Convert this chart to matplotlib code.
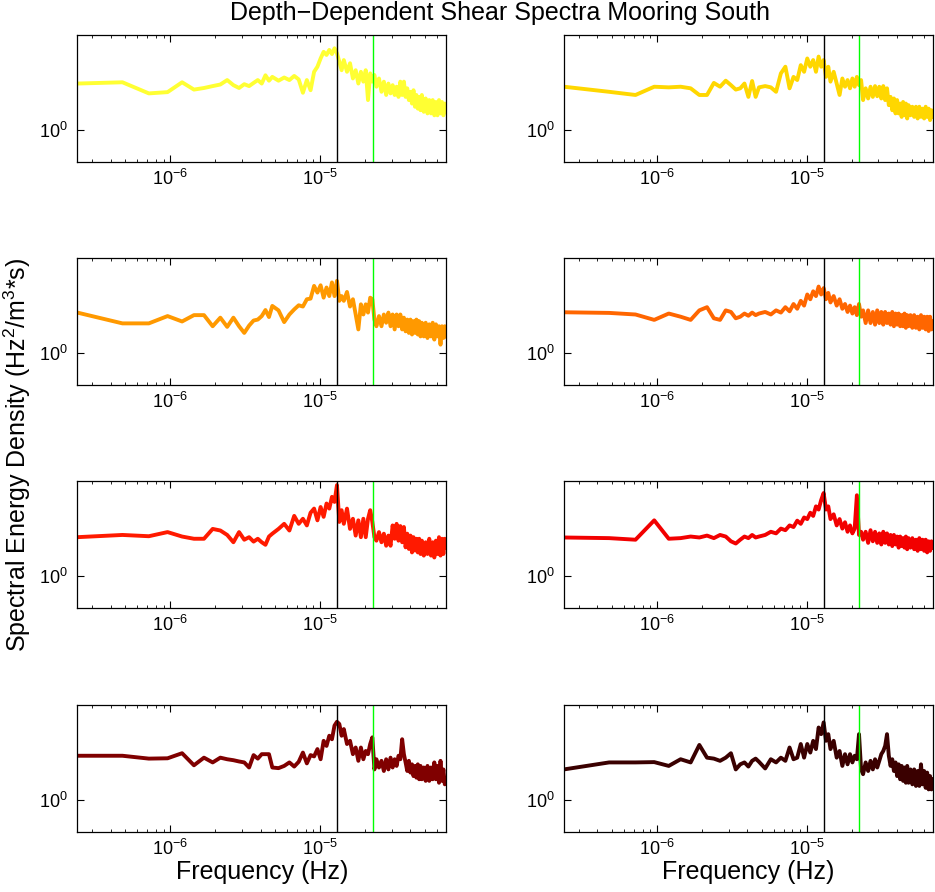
import numpy as np
import matplotlib.pyplot as plt
from matplotlib.ticker import LogLocator, NullLocator

plt.rcParams['font.family'] = ['Liberation Sans', 'DejaVu Sans']
plt.rcParams['mathtext.fontset'] = 'custom'
plt.rcParams['mathtext.rm'] = 'Liberation Sans'
plt.rcParams['mathtext.it'] = 'Liberation Sans:italic'
plt.rcParams['mathtext.bf'] = 'Liberation Sans:bold'

# frequency grid: 2-hourly record, 580 samples -> df, Nyquist at k=290
df = 1.0 / (580 * 2 * 3600.0)
k = [1, 2, 3, 4, 5, 6, 7, 8, 9, 10, 11, 12, 13, 14, 15, 16, 17, 18, 19, 20,
     22, 24, 26, 28, 30, 32, 34, 36, 38, 40, 42, 44, 46, 48, 50, 52, 54, 56, 58, 60,
     63, 66, 69, 72, 75, 78, 81, 84, 87, 90, 93, 96, 99,
     103, 107, 111, 115, 119, 123, 127, 131, 135, 139, 143, 147, 151, 155, 159, 163,
     167, 171, 175, 179, 183, 187, 191, 195, 199,
     205, 211, 217, 223, 229, 235, 241, 247, 253, 259, 265, 271, 277, 283, 290]

f_inertial = 1.30e-5
f_m2 = 2.2366e-5

# log10 of spectral energy density, one list per depth
log_s1 = [1.47, 1.51, 1.16, 1.20, 1.51, 1.28, 1.33, 1.39, 1.44, 1.58, 1.42, 1.33, 1.45, 1.39, 1.49, 1.58, 1.47, 1.73, 1.56, 1.68,
          1.56, 1.66, 1.58, 1.71, 1.60, 1.18, 1.58, 1.26, 1.84, 2.00, 2.26, 2.47, 2.37, 2.53, 2.40, 2.58, 2.42, 2.16, 1.89, 2.21,
          1.84, 2.11, 1.63, 1.89, 1.47, 1.84, 1.53, 1.89, 0.95, 1.79, 1.53, 1.74, 1.37,
          1.63, 1.21, 1.53, 1.11, 1.47, 1.16, 1.42, 1.11, 1.37, 1.05, 1.53, 1.11, 1.53, 1.05, 1.32, 0.95, 1.21, 0.84, 1.26, 0.74, 1.11, 0.68, 1.05, 0.63, 1.11,
          0.58, 1.00, 0.53, 0.95, 0.53, 0.95, 0.47, 0.89, 0.47, 0.95, 0.53, 0.89, 0.47, 0.84, 0.58]
log_s2 = [1.37, 1.21, 1.11, 1.37, 1.35, 1.37, 1.32, 1.11, 1.11, 1.49, 1.37, 1.56, 1.42, 1.28, 1.32, 1.47, 1.05, 1.55, 1.05, 1.35,
          1.39, 1.35, 1.21, 1.79, 2.00, 1.32, 1.68, 1.58, 2.05, 1.84, 2.26, 2.00, 2.21, 1.84, 2.32, 2.00, 2.21, 1.68, 2.00, 1.53,
          1.84, 1.47, 1.11, 1.63, 1.37, 1.58, 1.32, 1.63, 1.37, 1.68, 1.42, 1.58, 0.95,
          1.32, 1.00, 1.37, 1.05, 1.39, 1.07, 1.37, 1.00, 1.39, 0.95, 1.32, 0.79, 1.05, 0.63, 1.00, 0.53, 0.95, 0.53, 0.84, 0.42, 0.89, 0.47, 0.84, 0.37, 0.79,
          0.47, 0.74, 0.42, 0.74, 0.37, 0.74, 0.42, 0.68, 0.37, 0.74, 0.42, 0.68, 0.32, 0.63, 0.42]
log_s3 = [1.28, 0.94, 0.94, 1.17, 1.00, 1.20, 1.20, 0.85, 1.12, 0.83, 1.12, 0.85, 0.64, 0.87, 1.03, 1.06, 1.17, 1.36, 1.14, 1.49,
          1.35, 0.98, 1.22, 1.38, 1.51, 1.47, 1.70, 1.72, 2.12, 1.91, 2.14, 1.75, 2.07, 1.80, 2.23, 1.80, 2.28, 1.65, 1.80, 1.65,
          1.93, 1.47, 1.70, 1.22, 0.75, 1.54, 1.22, 1.54, 1.28, 1.75, 1.70, 1.06, 0.85,
          1.17, 0.85, 1.22, 0.96, 1.28, 0.85, 1.22, 0.75, 1.22, 0.85, 1.22, 0.75, 1.12, 0.69, 1.06, 0.64, 1.06, 0.59, 1.01, 0.64, 1.06, 0.59, 1.01, 0.53, 0.96,
          0.53, 0.96, 0.48, 0.91, 0.53, 0.96, 0.43, 0.91, 0.53, 0.85, 0.27, 0.85, 0.48, 0.85, 0.53]
log_s4 = [1.29, 1.27, 1.22, 1.05, 1.25, 1.15, 1.05, 1.35, 1.45, 1.10, 1.05, 1.35, 1.30, 1.10, 1.15, 1.25, 1.18, 1.28, 1.20, 1.25,
          1.30, 1.22, 1.35, 1.28, 1.45, 1.32, 1.55, 1.40, 1.65, 1.50, 1.85, 1.70, 1.95, 1.80, 2.10, 1.85, 2.05, 1.70, 1.90, 1.60,
          1.80, 1.50, 1.70, 1.40, 1.55, 1.30, 1.50, 1.25, 1.45, 1.20, 1.55, 1.15, 1.35,
          0.95, 1.35, 0.95, 1.30, 0.90, 1.35, 0.95, 1.30, 0.90, 1.30, 0.95, 1.25, 0.90, 1.30, 0.85, 1.25, 0.90, 1.25, 0.85, 1.20, 0.85, 1.25, 0.80, 1.20, 0.85,
          1.20, 0.80, 1.20, 0.80, 1.15, 0.75, 1.20, 0.80, 1.15, 0.75, 1.15, 0.70, 1.15, 0.75, 1.00]
log_s5 = [1.23, 1.30, 1.26, 1.39, 1.25, 1.18, 1.18, 1.49, 1.44, 1.30, 1.07, 1.39, 1.15, 1.23, 1.09, 1.18, 1.07, 0.99, 1.25, 1.34,
          1.49, 1.65, 1.44, 1.90, 1.65, 1.81, 1.60, 2.00, 2.13, 1.76, 2.18, 1.87, 2.29, 2.13, 2.50, 2.34, 2.87, 1.71, 2.08, 1.65,
          2.13, 1.49, 1.81, 1.28, 1.76, 1.23, 1.81, 1.23, 1.81, 2.08, 1.71, 1.23, 1.12,
          1.39, 1.07, 1.34, 0.96, 1.28, 0.96, 1.60, 1.18, 1.65, 1.12, 1.58, 1.07, 1.55, 0.91, 1.34, 0.86, 1.28, 0.75, 1.23, 0.81, 1.18, 0.75, 1.18, 0.70, 1.12,
          0.65, 1.07, 0.70, 1.18, 0.65, 1.07, 0.59, 1.12, 0.70, 1.23, 0.65, 1.18, 0.70, 1.18, 0.91]
log_s6 = [1.22, 1.20, 1.15, 1.76, 1.18, 1.20, 1.25, 1.22, 1.28, 1.20, 1.30, 1.25, 1.10, 1.03, 1.15, 1.25, 1.20, 1.30, 1.22, 1.25,
          1.30, 1.40, 1.35, 1.50, 1.45, 1.60, 1.55, 1.75, 1.65, 1.85, 1.80, 2.00, 1.90, 2.20, 2.10, 2.40, 2.62, 2.10, 2.20, 1.80,
          1.95, 1.60, 1.80, 1.50, 1.70, 1.40, 1.60, 1.35, 1.50, 2.55, 1.30, 1.40, 1.15,
          1.40, 1.05, 1.45, 1.10, 1.40, 1.05, 1.35, 1.00, 1.40, 1.05, 1.35, 1.00, 1.30, 0.95, 1.30, 1.00, 1.25, 0.90, 1.25, 0.95, 1.20, 0.90, 1.25, 0.85, 1.20,
          0.90, 1.20, 0.85, 1.15, 0.80, 1.20, 0.85, 1.15, 0.80, 1.15, 0.75, 1.10, 0.80, 1.10, 0.90]
log_s7 = [1.40, 1.40, 1.31, 1.32, 1.48, 1.10, 1.34, 1.19, 1.34, 1.29, 1.26, 1.22, 1.19, 1.03, 1.42, 1.31, 1.45, 1.45, 1.45, 1.03,
          1.01, 1.08, 1.19, 1.06, 1.21, 1.50, 1.16, 1.42, 1.38, 1.61, 1.29, 1.87, 1.71, 2.03, 1.92, 2.35, 2.47, 2.40, 2.03, 2.24,
          1.77, 1.87, 1.45, 1.66, 1.24, 1.66, 1.29, 1.55, 1.45, 1.77, 1.98, 0.97, 1.29,
          1.03, 1.24, 0.92, 1.29, 0.97, 1.34, 1.03, 1.29, 1.08, 1.40, 1.29, 1.92, 1.45, 1.19, 0.92, 1.24, 0.87, 1.13, 0.76, 1.08, 0.71, 1.13, 0.66, 1.08, 0.66,
          1.03, 0.61, 1.08, 0.61, 1.03, 0.66, 1.19, 0.66, 1.08, 0.55, 1.24, 0.61, 0.97, 0.50, 0.66]
log_s8 = [0.97, 1.19, 1.19, 1.20, 1.08, 1.29, 1.19, 1.74, 1.34, 1.31, 1.24, 1.34, 1.48, 0.97, 1.13, 1.19, 1.06, 1.24, 1.31, 1.21,
          1.00, 1.29, 1.19, 1.34, 1.24, 1.66, 1.29, 1.34, 1.77, 1.34, 1.77, 1.50, 1.87, 1.61, 2.29, 2.08, 2.45, 1.87, 2.08, 1.61,
          1.87, 1.34, 1.55, 1.08, 1.45, 1.13, 1.45, 1.19, 1.40, 1.29, 2.08, 0.97, 0.82,
          1.19, 0.92, 1.24, 0.97, 1.29, 1.03, 1.24, 1.45, 1.55, 1.71, 2.08, 1.40, 1.08, 1.29, 0.92, 1.19, 0.76, 1.13, 0.66, 1.08, 0.61, 1.03, 0.55, 1.08, 0.55,
          0.97, 0.50, 0.97, 0.45, 0.92, 0.45, 1.13, 0.50, 0.92, 0.39, 0.87, 0.34, 0.76, 0.34, 0.66]

series = [log_s1, log_s2, log_s3, log_s4, log_s5, log_s6, log_s7, log_s8]
colors = ['#FFFF33', '#FFD700', '#FF9900', '#FF6600', '#FF1A00', '#F20000', '#800000', '#3A0000']

freq = np.array(k) * df

fig = plt.figure(figsize=(9.35, 8.92), dpi=100)
lefts = [0.0827, 0.6032]
bottoms = [0.8184, 0.5684, 0.3184, 0.0673]

for i, logs in enumerate(series):
    row, col = i // 2, i % 2
    ax = fig.add_axes([lefts[col], bottoms[row], 0.3947, 0.1424])
    ax.loglog(freq, 10 ** np.array(logs), color=colors[i], lw=2.8)
    ax.axvline(f_inertial, color='k', lw=1.0)
    ax.axvline(f_m2, color='#00FF00', lw=1.0)
    ax.set_xlim(df, 290 * df)
    ax.set_ylim(0.1, 1000)
    ax.set_yticks([1])
    ax.yaxis.set_minor_locator(NullLocator())
    ax.xaxis.set_major_locator(LogLocator(base=10))
    ax.xaxis.set_minor_locator(LogLocator(base=10, subs=np.arange(2, 10)))
    ax.tick_params(which='both', direction='in', top=True, right=True, labelsize=13)
    ax.tick_params(which='major', length=5, width=0.8)
    ax.tick_params(which='minor', length=2.5, width=0.6)
    ax.tick_params(axis='x', pad=5)
    ax.tick_params(axis='y', pad=7)
    for s in ax.spines.values():
        s.set_linewidth(0.9)
    if row == 3:
        ax.set_xlabel('Frequency (Hz)', fontsize=18, labelpad=1)

fig.text(0.535, 0.985, 'Depth\u2212Dependent Shear Spectra Mooring South', ha='center', va='center', fontsize=18)
fig.text(0.019, 0.49, 'Spectral Energy Density (Hz$^2$/m$^3$*s)', rotation=90, ha='center', va='center', fontsize=18)

fig.savefig('out.png', dpi=100)
